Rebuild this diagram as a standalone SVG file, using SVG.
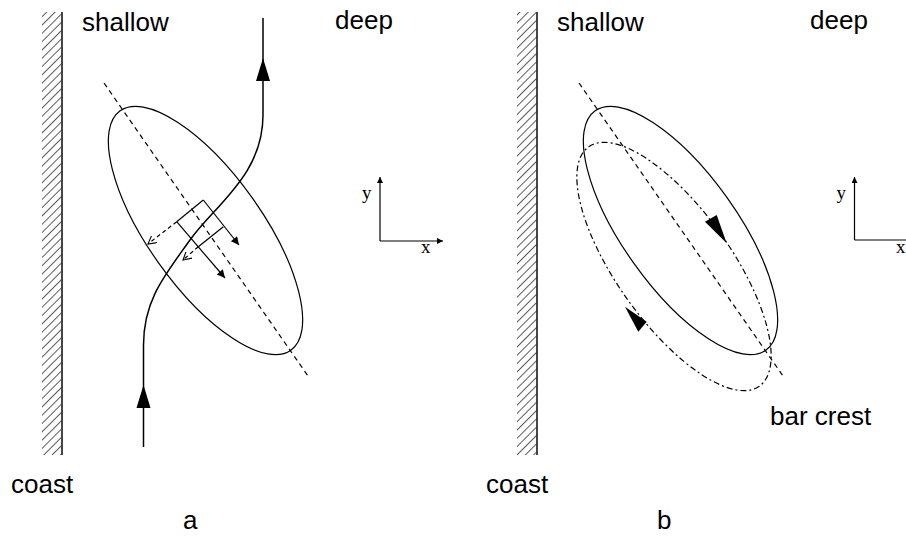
<svg xmlns="http://www.w3.org/2000/svg" width="906" height="536" viewBox="0 0 906 536">
<style>
.lbl{font-family:"Liberation Sans",Arial,sans-serif;font-size:26px;fill:#000}
.ax{font-family:"Liberation Serif","Times New Roman",serif;font-size:19px;fill:#000}
.ln{fill:none;stroke:#000;stroke-width:1.2}
.fl{fill:none;stroke:#000;stroke-width:1.5}
.cl{fill:none;stroke:#000;stroke-width:1.2;stroke-dasharray:5 4}
.dd{fill:none;stroke:#000;stroke-width:1.2;stroke-dasharray:6 3 2 3}
.wall{fill:none;stroke:#333;stroke-width:1.8}
.hd{fill:#000;stroke:none}
</style>
<defs>
<pattern id="hatch" patternUnits="userSpaceOnUse" width="5.87" height="5.87" patternTransform="rotate(45)">
<rect x="0" y="0" width="0.8" height="5.87" fill="#333"/>
</pattern>
<marker id="open" viewBox="0 0 10 10" refX="9" refY="5" markerWidth="9" markerHeight="9" markerUnits="userSpaceOnUse" orient="auto">
<path d="M0,0 L9,5 L0,10" fill="none" stroke="#000" stroke-width="1.2"/>
</marker>
<marker id="solid" viewBox="0 0 10 10" refX="10" refY="5" markerWidth="13" markerHeight="8" markerUnits="userSpaceOnUse" orient="auto">
<path d="M0,0 L10,5 L0,10 Z" fill="#000"/>
</marker>
<marker id="axh" viewBox="0 0 10 10" refX="10" refY="5" markerWidth="8" markerHeight="6" markerUnits="userSpaceOnUse" orient="auto">
<path d="M0,0 L10,5 L0,10 Z" fill="#000"/>
</marker>
</defs>

<g id="panel-a">
<g id="wall-a">
<rect x="42" y="12" width="20" height="443" fill="url(#hatch)"/>
<line class="wall" x1="62" y1="12" x2="62" y2="455"/>
</g>
<g id="ellipse-a">
<ellipse class="ln" cx="205.5" cy="230.5" rx="147" ry="57" transform="rotate(54.5 205.5 230.5)"/>
<line class="cl" x1="104" y1="83" x2="308" y2="376"/>
</g>
<g id="box-a">
<line class="ln" x1="176.7" y1="221.7" x2="203.3" y2="200"/>
<line class="ln" x1="198.3" y1="246.7" x2="223.3" y2="226.7"/>
<line class="ln" x1="176.7" y1="221.7" x2="225" y2="278" marker-end="url(#solid)"/>
<line class="ln" x1="203.3" y1="200" x2="239" y2="245" marker-end="url(#solid)"/>
<line class="cl" style="stroke-dasharray:4 3" x1="176.7" y1="221.7" x2="148" y2="244" marker-end="url(#open)"/>
<line class="cl" style="stroke-dasharray:4 3" x1="198.3" y1="246.7" x2="183" y2="260" marker-end="url(#open)"/>
</g>
<g id="axes-a">
<line class="ln" x1="380" y1="241" x2="380" y2="177" marker-end="url(#axh)"/>
<line class="ln" x1="380" y1="241" x2="443" y2="241" marker-end="url(#axh)"/>
<text class="ax" x="362" y="199">y</text>
<text class="ax" x="421" y="253">x</text>
</g>
<g id="labels-a">
<text class="lbl" x="82" y="31">shallow</text>
<text class="lbl" x="335" y="29">deep</text>
<text class="lbl" x="11" y="493">coast</text>
<text class="lbl" x="183" y="529">a</text>
</g>
</g>

<g id="connectors">
<path id="flow-a" class="fl" d="M143.5,447 V345 C143.5,300 165,275 190,240 C215,205 263,175 263,115 V18"/>
<polygon class="hd" points="143.5,385 136.5,408 150.5,408"/>
<polygon class="hd" points="263,58 256,81 270,81"/>
</g>

<g id="panel-b">
<g id="wall-b">
<rect x="517" y="12" width="20" height="443" fill="url(#hatch)"/>
<line class="wall" x1="537" y1="12" x2="537" y2="455"/>
</g>
<g id="ellipse-b">
<ellipse class="ln" cx="680.5" cy="230.5" rx="147" ry="57" transform="rotate(54.5 680.5 230.5)"/>
<ellipse class="dd" cx="674" cy="266.5" rx="147" ry="57" transform="rotate(54.5 674 266.5)"/>
<line class="cl" x1="579" y1="83" x2="783" y2="376"/>
<polygon class="hd" points="726.7,243.3 705,221.7 716.7,215"/>
<polygon class="hd" points="625,306.7 646.7,321.7 638.3,331.7"/>
</g>
<g id="axes-b">
<line class="ln" x1="854.5" y1="240" x2="854.5" y2="177" marker-end="url(#axh)"/>
<line class="ln" x1="854.5" y1="240" x2="917" y2="240" marker-end="url(#axh)"/>
<text class="ax" x="836.5" y="199">y</text>
<text class="ax" x="896" y="253">x</text>
</g>
<g id="labels-b">
<text class="lbl" x="557" y="31">shallow</text>
<text class="lbl" x="810" y="29">deep</text>
<text class="lbl" x="486" y="493">coast</text>
<text class="lbl" x="657" y="529">b</text>
<text class="lbl" x="770" y="425">bar crest</text>
</g>
</g>
</svg>
